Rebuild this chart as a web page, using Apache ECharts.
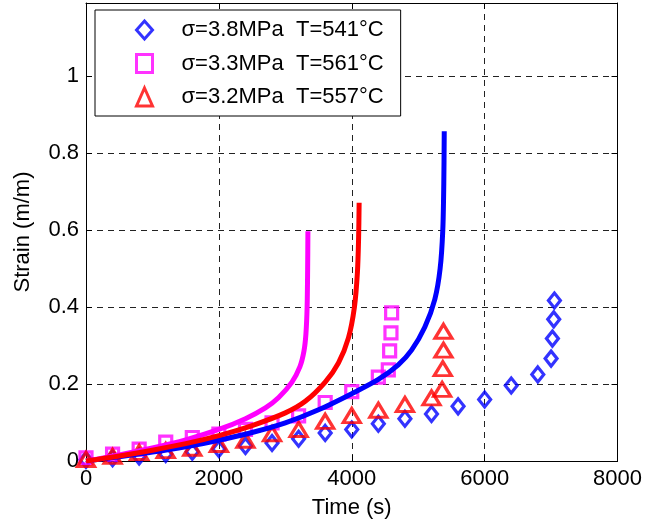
<!DOCTYPE html>
<html>
<head>
<meta charset="utf-8">
<script src="https://cdn.jsdelivr.net/npm/echarts@6/dist/echarts.min.js"></script>
<style>
  html, body { margin: 0; padding: 0; background: #ffffff; }
  #chart { width: 645px; height: 524px; }
</style>
</head>
<body>
<div id="chart"></div>
<script>
// Test conditions
const labels = ['σ=3.8MPa  T=541°C', 'σ=3.3MPa  T=561°C', 'σ=3.2MPa  T=557°C'];
const colors = ['#0000ff', '#ff00ff', '#ff0000'];

// Measured creep strain, 3.8 MPa / 541 °C
const timeA   = [0, 400, 800, 1200, 1600, 2000, 2400, 2800, 3200, 3600, 4000, 4400, 4800, 5200, 5600, 6000, 6400, 6800, 7000, 7020, 7040, 7050];
const strainA = [0.003, 0.007, 0.012, 0.018, 0.024, 0.031, 0.039, 0.047, 0.058, 0.073, 0.082, 0.097, 0.110, 0.122, 0.142, 0.160, 0.196, 0.225, 0.266, 0.318, 0.368, 0.417];

// Measured creep strain, 3.3 MPa / 561 °C
const timeB   = [0, 400, 800, 1200, 1600, 2000, 2400, 2800, 3200, 3600, 4000, 4400, 4550, 4570, 4590, 4600];
const strainB = [0.008, 0.018, 0.031, 0.049, 0.061, 0.070, 0.082, 0.099, 0.117, 0.152, 0.180, 0.218, 0.237, 0.286, 0.333, 0.385];

// Measured creep strain, 3.2 MPa / 557 °C
const timeC   = [0, 400, 800, 1200, 1600, 2000, 2400, 2800, 3200, 3600, 4000, 4400, 4800, 5200, 5360, 5370, 5380, 5380];
const strainC = [0.004, 0.012, 0.022, 0.027, 0.033, 0.043, 0.054, 0.071, 0.082, 0.103, 0.118, 0.132, 0.147, 0.164, 0.186, 0.240, 0.288, 0.337];

// Model curves
const fitTimeA   = [0, 500, 1000, 1500, 2000, 2500, 3000, 3500, 4000, 4400, 4700, 4900, 5100, 5250, 5330, 5370, 5385, 5392];
const fitStrainA = [0, 0.011, 0.023, 0.037, 0.054, 0.074, 0.099, 0.133, 0.175, 0.212, 0.250, 0.288, 0.348, 0.420, 0.500, 0.600, 0.720, 0.857];

const fitTimeB   = [0, 500, 1000, 1500, 2000, 2400, 2700, 2900, 3100, 3220, 3280, 3310, 3328, 3336, 3340];
const fitStrainB = [0, 0.016, 0.034, 0.055, 0.082, 0.110, 0.138, 0.165, 0.205, 0.245, 0.285, 0.330, 0.400, 0.500, 0.597];

const fitTimeC   = [0, 500, 1000, 1500, 2000, 2500, 3000, 3300, 3600, 3800, 3950, 4040, 4085, 4103, 4111];
const fitStrainC = [0, 0.013, 0.028, 0.045, 0.066, 0.092, 0.125, 0.155, 0.205, 0.255, 0.320, 0.400, 0.490, 0.580, 0.671];

// Axis ticks
const xTicks = { min: 0, max: 8000, step: 2000 };
const yTicks = { min: 0, max: 1.19, step: 0.2 };

const pairs = (xs, ys) => xs.map((x, i) => [x, ys[i]]);
const FONT = 'Liberation Sans, Arial, Helvetica, sans-serif';

const symbols = ['diamond', 'rect', 'triangle'];
const symbolSizes = [[12, 15], [12, 12], [17, 14]];

const measured = [pairs(timeA, strainA), pairs(timeB, strainB), pairs(timeC, strainC)];
const fitted = [pairs(fitTimeA, fitStrainA), pairs(fitTimeB, fitStrainB), pairs(fitTimeC, fitStrainC)];

const scatterSeries = measured.map((d, i) => ({
  name: labels[i],
  type: 'scatter',
  data: d,
  symbol: symbols[i],
  symbolSize: symbolSizes[i],
  itemStyle: { color: 'rgba(0,0,0,0)', borderColor: colors[i], borderWidth: 3.2 },
  emphasis: { disabled: true },
  z: 2
}));

// model lines drawn on top: blue, magenta, then red
const lineSeries = [0, 1, 2].map(i => ({
  name: 'model ' + i,
  type: 'line',
  data: fitted[i],
  showSymbol: false,
  smooth: 0.3,
  lineStyle: { color: colors[i], width: 5 },
  emphasis: { disabled: true },
  z: 3
}));

const tickStyle = { inside: true, length: 6, lineStyle: { color: '#000', width: 1 } };
const lineStyleAxis = { show: true, onZero: false, lineStyle: { color: '#000', width: 1 } };
const gridLine = { show: true, lineStyle: { color: '#222', width: 1, type: [6, 5] } };
const textBase = { fontSize: 22, color: '#000', fontFamily: FONT };

const chart = echarts.init(document.getElementById('chart'), null, { renderer: 'canvas' });
chart.setOption({
  animation: false,
  backgroundColor: '#ffffff',
  grid: { left: 86, right: 26, top: 3, bottom: 62.5, containLabel: false },
  legend: {
    orient: 'vertical',
    left: 95,
    top: 10,
    selectedMode: false,
    backgroundColor: '#ffffff',
    borderColor: '#000',
    borderWidth: 1,
    borderRadius: 0,
    padding: [9, 17, 8, 40],
    itemGap: 11.5,
    itemWidth: 16,
    itemHeight: 18,
    symbolKeepAspect: false,
    textStyle: Object.assign({}, textBase, { padding: [0, 0, 0, 24] }),
    data: labels.map((n, i) => ({
      name: n,
      icon: symbols[i],
      itemStyle: { color: 'rgba(0,0,0,0)', borderColor: colors[i], borderWidth: 3 }
    }))
  },
  xAxis: [{
    type: 'value',
    min: xTicks.min, max: xTicks.max, interval: xTicks.step,
    name: 'Time (s)', nameLocation: 'middle', nameGap: 36,
    nameTextStyle: textBase,
    axisLine: lineStyleAxis,
    axisTick: tickStyle,
    axisLabel: Object.assign({}, textBase, { margin: 7, formatter: v => String(v) }),
    splitLine: gridLine
  }, {
    type: 'value', position: 'top',
    min: xTicks.min, max: xTicks.max, interval: xTicks.step,
    axisLine: lineStyleAxis,
    axisTick: tickStyle,
    axisLabel: { show: false },
    splitLine: { show: false }
  }],
  yAxis: [{
    type: 'value',
    min: yTicks.min, max: yTicks.max, interval: yTicks.step,
    name: 'Strain (m/m)', nameLocation: 'middle', nameGap: 52,
    nameTextStyle: textBase,
    axisLine: lineStyleAxis,
    axisTick: tickStyle,
    axisLabel: Object.assign({}, textBase, { margin: 7, showMaxLabel: false,
      formatter: v => String(Math.round(v * 10) / 10) }),
    splitLine: gridLine
  }, {
    type: 'value', position: 'right',
    min: yTicks.min, max: yTicks.max, interval: yTicks.step,
    axisLine: lineStyleAxis,
    axisTick: tickStyle,
    axisLabel: { show: false },
    splitLine: { show: false }
  }],
  series: scatterSeries.concat(lineSeries)
});
</script>
</body>
</html>
